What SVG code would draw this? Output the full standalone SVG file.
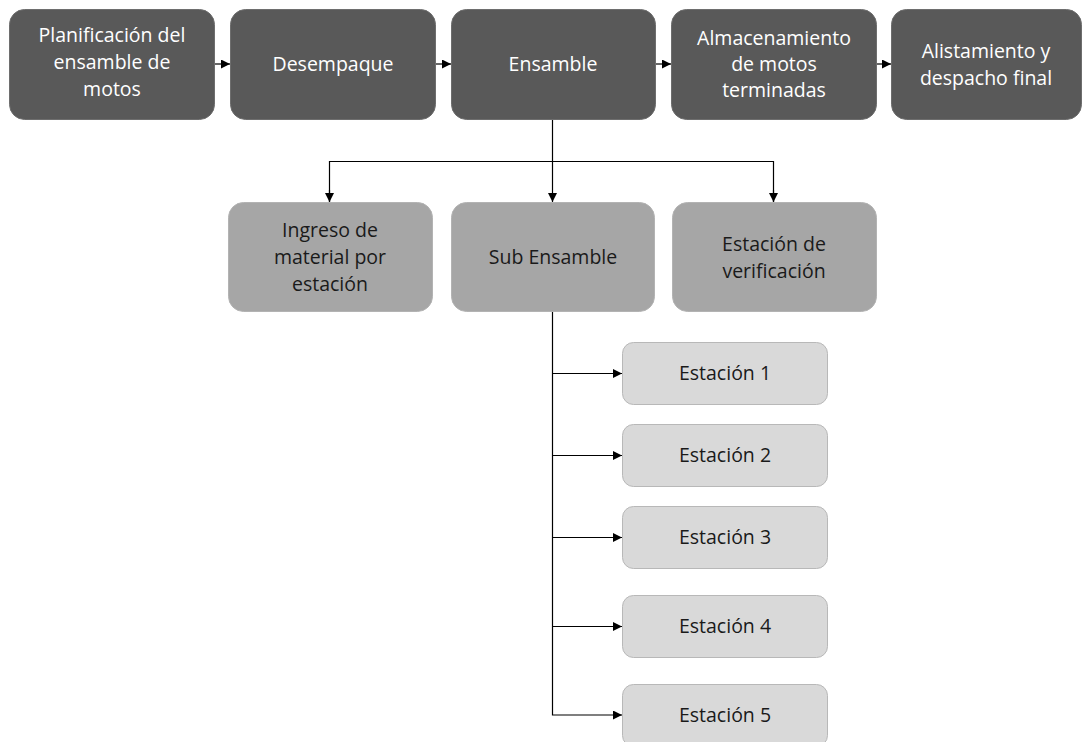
<svg xmlns="http://www.w3.org/2000/svg" width="1091" height="742" viewBox="0 0 1091 742">
  <style>
    text { font-family: "Open Sans", "Liberation Sans", sans-serif; font-size: 19.5px; text-anchor: middle; }
    .dark rect { fill: #595959; stroke: #6e6e6e; stroke-width: 1; }
    .dark text { fill: #ffffff; }
    .mid rect { fill: #a6a6a6; stroke: #b3b3b3; stroke-width: 1; }
    .mid text { fill: #1a1a1a; }
    .light rect { fill: #d9d9d9; stroke: #b8b8b8; stroke-width: 1; }
    .light text { fill: #1a1a1a; }
    .conn { fill: none; stroke: #000000; stroke-width: 1.2; }
  </style>
  <defs>
    <marker id="arrow" viewBox="0 0 10 10" refX="10" refY="5" markerWidth="9" markerHeight="9" markerUnits="userSpaceOnUse" orient="auto">
      <path d="M0,0 L10,5 L0,10 Z" fill="#000000"/>
    </marker>
  </defs>

  <rect width="1091" height="742" fill="#ffffff"/>

  <!-- main process row -->
  <g id="planificacion" class="dark">
    <rect x="9.5" y="9.5" width="205" height="110" rx="15"/>
    <text x="112" y="42">Planificación del</text>
    <text x="112" y="69">ensamble de</text>
    <text x="112" y="96">motos</text>
  </g>
  <g id="desempaque" class="dark">
    <rect x="230.5" y="9.5" width="205" height="110" rx="15"/>
    <text x="333" y="71">Desempaque</text>
  </g>
  <g id="ensamble" class="dark">
    <rect x="451.5" y="9.5" width="204" height="110" rx="15"/>
    <text x="553" y="71">Ensamble</text>
  </g>
  <g id="almacenamiento" class="dark">
    <rect x="671.5" y="9.5" width="205" height="110" rx="15"/>
    <text x="774" y="45">Almacenamiento</text>
    <text x="774" y="71">de motos</text>
    <text x="774" y="97">terminadas</text>
  </g>
  <g id="alistamiento" class="dark">
    <rect x="891.5" y="9.5" width="190" height="110" rx="15"/>
    <text x="986" y="58">Alistamiento y</text>
    <text x="986" y="85">despacho final</text>
  </g>

  <!-- ensamble sub-processes -->
  <g id="ingreso" class="mid">
    <rect x="228.5" y="202.5" width="204" height="109" rx="15"/>
    <text x="330" y="237">Ingreso de</text>
    <text x="330" y="264">material por</text>
    <text x="330" y="291">estación</text>
  </g>
  <g id="subensamble" class="mid">
    <rect x="451.5" y="202.5" width="203" height="109" rx="15"/>
    <text x="553" y="264">Sub Ensamble</text>
  </g>
  <g id="verificacion" class="mid">
    <rect x="672.5" y="202.5" width="204" height="109" rx="15"/>
    <text x="774" y="251">Estación de</text>
    <text x="774" y="278">verificación</text>
  </g>

  <!-- stations -->
  <g id="estacion1" class="light">
    <rect x="622.5" y="342.5" width="205" height="62" rx="11"/>
    <text x="725" y="380">Estación 1</text>
  </g>
  <g id="estacion2" class="light">
    <rect x="622.5" y="424.5" width="205" height="62" rx="11"/>
    <text x="725" y="462">Estación 2</text>
  </g>
  <g id="estacion3" class="light">
    <rect x="622.5" y="506.5" width="205" height="62" rx="11"/>
    <text x="725" y="544">Estación 3</text>
  </g>
  <g id="estacion4" class="light">
    <rect x="622.5" y="595.5" width="205" height="62" rx="11"/>
    <text x="725" y="633">Estación 4</text>
  </g>
  <g id="estacion5" class="light">
    <rect x="622.5" y="684.5" width="205" height="62" rx="11"/>
    <text x="725" y="722">Estación 5</text>
  </g>

  <!-- connectors -->
  <g id="connectors">
    <line class="conn" x1="215" y1="64" x2="230" y2="64" marker-end="url(#arrow)"/>
    <line class="conn" x1="436" y1="64" x2="451" y2="64" marker-end="url(#arrow)"/>
    <line class="conn" x1="656" y1="64" x2="671" y2="64" marker-end="url(#arrow)"/>
    <line class="conn" x1="877" y1="64" x2="891" y2="64" marker-end="url(#arrow)"/>

    <line class="conn" x1="552.5" y1="120" x2="552.5" y2="202" marker-end="url(#arrow)"/>
    <polyline class="conn" points="329.5,202 329.5,161.5 773.5,161.5 773.5,202"/>
    <line class="conn" x1="329.5" y1="190" x2="329.5" y2="202" marker-end="url(#arrow)"/>
    <line class="conn" x1="773.5" y1="190" x2="773.5" y2="202" marker-end="url(#arrow)"/>

    <polyline class="conn" points="552.5,312 552.5,715 622,715" marker-end="url(#arrow)"/>
    <line class="conn" x1="552.5" y1="373.5" x2="622" y2="373.5" marker-end="url(#arrow)"/>
    <line class="conn" x1="552.5" y1="455.5" x2="622" y2="455.5" marker-end="url(#arrow)"/>
    <line class="conn" x1="552.5" y1="537.5" x2="622" y2="537.5" marker-end="url(#arrow)"/>
    <line class="conn" x1="552.5" y1="626.5" x2="622" y2="626.5" marker-end="url(#arrow)"/>
  </g>
</svg>
